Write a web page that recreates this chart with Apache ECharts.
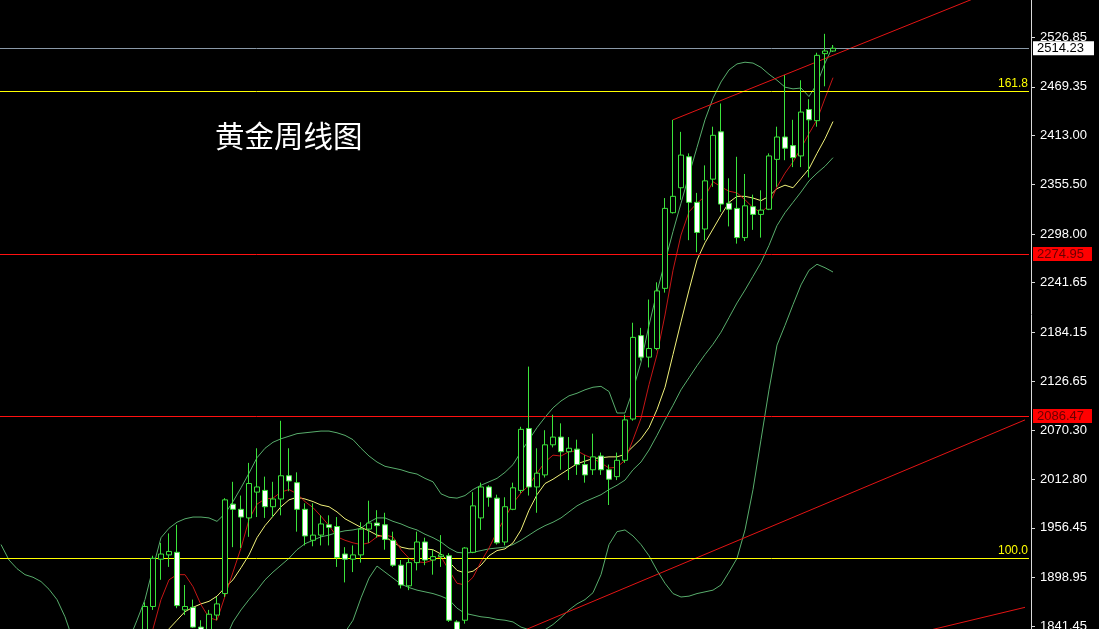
<!DOCTYPE html>
<html><head><meta charset="utf-8">
<script src="https://cdn.jsdelivr.net/npm/echarts@6/dist/echarts.min.js"></script>
<style>html,body{margin:0;padding:0;background:#000;}#chart{width:1099px;height:629px;}</style>
</head><body><div id="chart"></div>
<script>
// ---------------- data ----------------
const titleText = '黄金周线图';
const firstWeek = '2022-08-29';
const slotCount = 129;

// weekly candles: [open, close, low, high], first one at slot candleStart
const candleStart = 18;
const candles = [
[1826,1865,1823,1870],[1865,1921,1861,1924],[1920,1926,1896,1939],[1925,1929,1911,1950],[1928,1866,1863,1960],
[1861,1865,1855,1890],[1864,1841,1840,1873],[1841,1810,1805,1849],[1810,1856,1804,1861],[1855,1868,1849,1876],
[1880,1989,1876,1991],[1984,1978,1934,2010],[1978,1969,1933,1994],[1968,2008,1946,2032],[1998,2004,1969,2049],
[2000,1981,1968,2016],[1981,1990,1969,2010],[1990,2017,1971,2081],[2017,2011,1999,2049],[2009,1978,1952,2021],
[1978,1947,1936,1985],[1942,1948,1935,1985],[1948,1961,1936,1971],[1960,1957,1936,1971],[1958,1922,1911,1969],
[1926,1920,1893,1934],[1920,1925,1905,1936],[1925,1955,1916,1963],[1955,1962,1939,1988],[1962,1959,1945,1977],
[1960,1943,1931,1974],[1942,1913,1911,1952],[1913,1890,1886,1919],[1889,1916,1884,1921],[1916,1940,1907,1952],
[1940,1919,1913,1945],[1919,1923,1902,1931],[1923,1925,1911,1948],[1924,1849,1847,1927],[1847,1832,1810,1849],
[1849,1933,1845,1934],[1928,1982,1927,1998],[1968,2004,1954,2009],[2004,1992,1981,2006],[1991,1939,1937,1995],
[1940,1981,1936,1992],[1978,2003,1977,2009],[2000,2071,1997,2074],[2072,2004,1994,2144],[2004,2020,1974,2049],
[2018,2053,2015,2070],[2053,2062,2050,2088],[2062,2045,2024,2078],[2045,2049,2012,2062],[2048,2030,2018,2059],
[2030,2018,2009,2041],[2024,2039,2018,2066],[2040,2024,2018,2044],[2024,2013,1983,2030],[2016,2035,2012,2044],
[2035,2082,2032,2088],[2083,2178,2081,2195],[2180,2155,2151,2189],[2155,2165,2143,2222],[2165,2232,2163,2242],
[2235,2328,2230,2340],[2323,2342,2322,2431],[2352,2390,2338,2417],[2388,2335,2291,2392],[2335,2300,2277,2346],
[2304,2360,2291,2378],[2362,2413,2353,2423],[2417,2333,2324,2450],[2334,2327,2307,2363],[2328,2294,2287,2388],
[2294,2331,2290,2368],[2330,2321,2303,2344],[2321,2326,2294,2349],[2327,2389,2326,2392],[2385,2411,2353,2423],
[2411,2398,2384,2483],[2401,2387,2376,2431],[2389,2440,2376,2477],[2443,2431,2364,2455],[2430,2506,2423,2509],
[2508,2511,2470,2531],[2511,2514.23,2510,2518]
];

// red moving average
const maRedStart = 18;
const maRed = [1814,1839,1873,1896,1902,1902,1888,1867,1852,1849,
1877,1905,1933,1966,1984,1990,1991,1998,2001,1996,
1987,1980,1970,1959,1946,1942,1939,1937,1939,1946,
1948,1946,1931,1921,1917,1916,1919,1923,1907,1892,
1890,1899,1917,1933,1952,1968,1985,1997,2006,2020,
2033,2041,2040,2045,2046,2041,2037,2032,2026,2027,
2035,2059,2084,2123,2158,2204,2256,2297,2324,2334,
2342,2359,2353,2348,2346,2338,2329,2323,2332,2353,
2369,2382,2398,2415,2431,2456,2480];

// yellow moving average
const maYellowStart = 20;
const maYellow = [1826,1839,1849,1859,1864,1868,1871,1877,1887,1896,
1910,1925,1945,1959,1970,1981,1989,1992,1990,1987,
1983,1981,1975,1967,1962,1957,1953,1948,1946,1940,
1934,1932,1932,1932,1931,1926,1917,1907,1904,1906,
1913,1924,1930,1932,1939,1954,1977,1995,2008,2013,
2019,2025,2031,2034,2037,2038,2039,2039,2042,2051,
2060,2073,2094,2120,2158,2196,2233,2268,2288,2304,
2320,2335,2342,2342,2340,2337,2342,2351,2355,2352,
2363,2374,2392,2409,2429];

// bands (green)
const bandUpperStart = 0;
const bandUpper = [1937,1919,1909,1902,1899,1894,1885,1873,1853,1826,
1803,1795,1788,1786,1790,1803,1826,1849,1873,1910,
1945,1956,1963,1967,1969,1969,1968,1964,1973,1987,
2003,2020,2038,2049,2056,2060,2063,2066,2067,2068,
2069,2069,2067,2064,2059,2049,2040,2033,2028,2026,
2024,2021,2019,2014,2010,1996,1992,1991,1994,2001,
2006,2010,2014,2021,2030,2045,2059,2073,2085,2096,
2104,2110,2113,2117,2120,2121,2115,2090,2090,2117,
2149,2192,2231,2266,2301,2334,2367,2399,2431,2456,
2475,2489,2496,2498,2497,2492,2484,2477,2469,2467,
2468,2458,2473,2497,2517];
const bandMiddleStart = 25;
const bandMiddle = [1780,1797,1814,1826,1847,1861,1873,1884,1896,1905,
1913,1921,1931,1938,1942,1946,1948,1951,1953,1954,
1956,1963,1968,1968,1964,1961,1957,1954,1949,1945,
1940,1933,1928,1927,1928,1930,1932,1933,1934,1937,
1942,1948,1954,1959,1963,1968,1975,1982,1987,1991,
1995,2001,2006,2012,2024,2033,2047,2064,2082,2099,
2117,2131,2145,2158,2170,2184,2201,2218,2233,2249,
2265,2285,2308,2323,2335,2347,2360,2369,2377,2387];
const bandLowerStart = 38;
const bandLower = [1752,1766,1780,1797,1820,1835,1849,1875,1898,1912,
1905,1898,1891,1887,1884,1882,1880,1877,1873,1863,
1857,1855,1853,1852,1850,1849,1847,1841,1838,1835,
1838,1844,1852,1861,1868,1873,1881,1902,1937,1952,
1954,1947,1937,1924,1907,1892,1880,1876,1877,1880,
1882,1884,1890,1905,1921,1954,2001,2059,2117,2169,
2192,2216,2239,2256,2263,2259,2254];

// trend lines: [slot, price] pairs
const trendUpper = [[84, 2431], [128, 2596]];
const trendLower = [[62, 1824], [128, 2082]];
const trendBottom = [[115, 1835], [128, 1864]];

// horizontal levels
const bidPrice = 2514.23;
const redLevels = [2274.95, 2086.47];
const fibLevels = [['161.8', 2464.5], ['100.0', 1921.4]];

// axis
const yMin = 1838.8, yMax = 2570.35;
const yTicks = [1841.45, 1898.95, 1956.45, 2012.80, 2070.30, 2126.65, 2184.15, 2241.65, 2298.00, 2355.50, 2413.00, 2469.35, 2526.85];

// ---------------- build ----------------
const categories = [];
const d0 = new Date(firstWeek + 'T00:00:00Z').getTime();
for (let i = 0; i < slotCount; i++) categories.push(new Date(d0 + i * 7 * 86400000).toISOString().slice(0, 10));

function pad(start, arr) {
  const out = [];
  for (let i = 0; i < start + arr.length; i++) out.push(i < start ? null : arr[i - start]);
  return out;
}
const candleData = [];
for (let i = 0; i < candleStart + candles.length; i++) candleData.push(i < candleStart ? ['-', '-', '-', '-'] : candles[i - candleStart]);

const GREEN = '#3be33b', BAND = '#58ad6c', REDMA = '#c41616', YELMA = '#f2f27a', TREND = '#e41414';
const lineBase = (data, color, z) => ({ type: 'line', data, symbol: 'none', silent: true, z: z || 2,
  lineStyle: { color, width: 1 }, itemStyle: { color }, animation: false });

const levelData = [];
levelData.push({ yAxis: bidPrice, lineStyle: { color: '#8a99a8', width: 1, type: 'solid' },
  label: { show: true, position: 'end', distance: 4, formatter: bidPrice.toFixed(2), color: '#000', backgroundColor: '#fff',
    padding: [1, 10, 0, 4], fontSize: 13, fontFamily: 'Liberation Sans' } });
redLevels.forEach(v => levelData.push({ yAxis: v, lineStyle: { color: '#ff1010', width: 1, type: 'solid' },
  label: { show: true, position: 'end', distance: 4, formatter: v.toFixed(2), color: '#6a0000', backgroundColor: '#ff0000',
    padding: [1, 8, 0, 4], fontSize: 13, fontFamily: 'Liberation Sans' } }));
fibLevels.forEach(([t, v]) => levelData.push({ yAxis: v, lineStyle: { color: '#ffff00', width: 1, type: 'solid' },
  label: { show: true, position: 'insideEndTop', distance: 1, formatter: t, color: '#ffff00', fontSize: 12, fontFamily: 'Liberation Sans' } }));

const chart = echarts.init(document.getElementById('chart'), null, { renderer: 'canvas' });
chart.setOption({
  backgroundColor: '#000',
  animation: false,
  title: { text: titleText, left: 215, top: 121, padding: 0,
    textStyle: { color: '#fff', fontSize: 29.5, fontWeight: 'normal', fontFamily: 'Noto Sans CJK SC' } },
  grid: { left: -3, right: 70, top: 0, bottom: 0, containLabel: false, outerBoundsMode: 'none' },
  xAxis: { type: 'category', data: categories, boundaryGap: true,
    axisLine: { show: false }, axisTick: { show: false }, axisLabel: { show: false }, splitLine: { show: false } },
  yAxis: { type: 'value', position: 'right', offset: 2, min: yMin, max: yMax, scale: true,
    axisLine: { show: true, lineStyle: { color: '#d8d8d8', width: 1 } },
    axisTick: { show: true, length: 4, customValues: yTicks, lineStyle: { color: '#d8d8d8' } },
    axisLabel: { show: true, customValues: yTicks, formatter: v => Number(v).toFixed(2), color: '#fff',
      fontSize: 13, fontFamily: 'Liberation Sans', margin: 9 },
    splitLine: { show: false } },
  series: [
    Object.assign(lineBase(pad(bandUpperStart, bandUpper), BAND, 1), {
      markLine: { silent: true, symbol: ['none', 'none'], animation: false, data: levelData } }),
    lineBase(pad(bandMiddleStart, bandMiddle), BAND, 1),
    lineBase(pad(bandLowerStart, bandLower), BAND, 1),
    lineBase(trendUpper, TREND, 2),
    lineBase(trendLower, TREND, 2),
    lineBase(trendBottom, TREND, 2),
    lineBase(pad(maYellowStart, maYellow), YELMA, 3),
    lineBase(pad(maRedStart, maRed), REDMA, 3),
    { type: 'candlestick', data: candleData, z: 5, silent: true, barWidth: 5, animation: false,
      itemStyle: { color: '#000', color0: '#fff', borderColor: GREEN, borderColor0: GREEN, borderWidth: 1 } }
  ]
});
</script></body></html>
